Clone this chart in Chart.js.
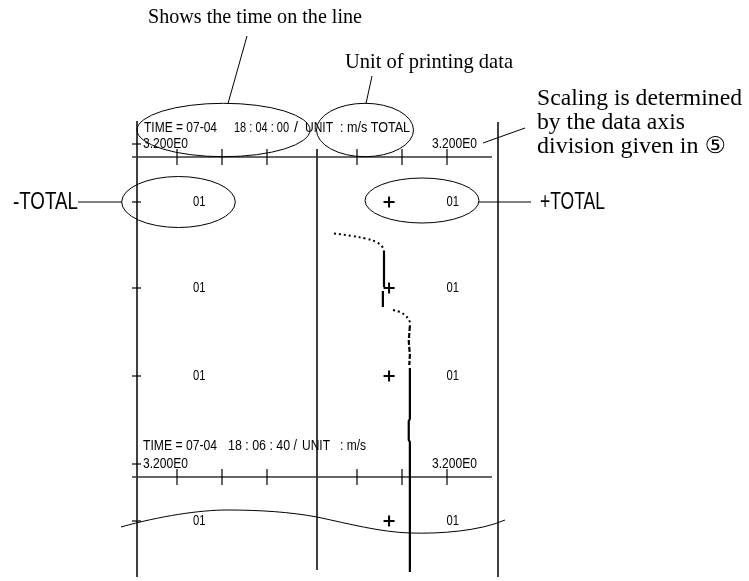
<!DOCTYPE html>
<html>
<head>
<meta charset="utf-8">
<script src="https://cdn.jsdelivr.net/npm/chart.js@4"></script>
<style>
  html, body { margin: 0; padding: 0; background: #fff; }
  canvas { display: block; }
</style>
</head>
<body>
<canvas id="chart" width="749" height="581"></canvas>
<script>
// printed wind speed record: x = speed (m/s), y = seconds after 18:04:00
const axisTicks = [-2.4, -1.6, -0.8, 0.8, 1.6, 2.4];
const axisTimes = [0, 160];              // printed axes at 18:04:00 and 18:06:40
const rowTimes = [22.5, 65.5, 109.5, 182];
const rowLabels = ["01", "01", "01", "01"];
const plusSpeed = 1.37;

// trace pieces, as they were printed
const dotTimes1 = [38.2, 39.5, 40.8, 42.5, 44.5, 47];
const dotSpeeds1 = [0.39, 0.71, 0.96, 1.14, 1.24, 1.28];
const solidTimes1 = [47, 65];
const solidSpeeds1 = [1.28, 1.28];
const solidTimes2 = [67, 75];
const solidSpeeds2 = [1.26, 1.26];
const dotTimes2 = [76.5, 77.5, 79.5, 82.5, 84.5];
const dotSpeeds2 = [1.44, 1.56, 1.67, 1.74, 1.74];
const dashTimes = [84.5, 92, 99, 104];
const dashSpeeds = [1.74, 1.72, 1.74, 1.73];
const solidTimes3 = [105.5, 131, 132, 141.5, 142.5, 207.5];
const solidSpeeds3 = [1.74, 1.74, 1.72, 1.72, 1.74, 1.74];

const narrow = '"Liberation Sans Narrow", "Liberation Sans", Arial, sans-serif';
const serif = '"Liberation Serif", "Times New Roman", "DejaVu Sans", serif';

function pts(speeds, times) {
    return speeds.map((s, i) => ({ x: s, y: times[i] }));
}

// draw text squeezed / stretched to a given width
function fitText(ctx, str, x, y, w, size, family) {
    ctx.font = size + "px " + family;
    const m = ctx.measureText(str).width;
    ctx.save();
    ctx.translate(x, y);
    ctx.scale(w / m, 1);
    ctx.textAlign = "left";
    ctx.textBaseline = "middle";
    ctx.fillText(str, 0, 0);
    ctx.restore();
}

function line(ctx, x1, y1, x2, y2) {
    ctx.beginPath();
    ctx.moveTo(x1, y1);
    ctx.lineTo(x2, y2);
    ctx.stroke();
}

function ellipse(ctx, cx, cy, rx, ry) {
    ctx.beginPath();
    ctx.ellipse(cx, cy, rx, ry, 0, 0, Math.PI * 2);
    ctx.stroke();
}

const paperPlugin = {
    id: "paper",
    beforeDatasetsDraw(chart) {
        const ctx = chart.ctx;
        const xs = chart.scales.x, ys = chart.scales.y;
        ctx.save();
        ctx.strokeStyle = "#000";
        ctx.fillStyle = "#000";

        // frame lines
        ctx.lineWidth = 1.5;
        line(ctx, 137, 121, 137, 577);
        line(ctx, 317, 149, 317, 570);
        line(ctx, 498, 122, 498, 577);

        // data axes
        axisTimes.forEach(t => {
            const y = ys.getPixelForValue(t);
            ctx.strokeStyle = "#333";
            ctx.lineWidth = 1.5;
            line(ctx, xs.getPixelForValue(-3.2), y, xs.getPixelForValue(3.2), y);
            ctx.strokeStyle = "#000";
            ctx.lineWidth = 1.2;
            axisTicks.forEach(v => {
                const x = xs.getPixelForValue(v);
                line(ctx, x, y - 8, x, y + 8);
            });
            line(ctx, 132, y - 13, 141, y - 13);
            fitText(ctx, "3.200E0", 143, y - 13, 45, 14, narrow);
            fitText(ctx, "3.200E0", 432, y - 13, 45, 14, narrow);
        });

        // row marks and labels
        ctx.lineWidth = 1.2;
        rowTimes.forEach((t, i) => {
            const y = ys.getPixelForValue(t);
            line(ctx, 132, y, 141, y);
            fitText(ctx, rowLabels[i], 193, y, 12.5, 15, narrow);
            fitText(ctx, rowLabels[i], 446.5, y, 12.5, 15, narrow);
        });

        // headers
        const h1 = ys.getPixelForValue(axisTimes[0]) - 29;
        fitText(ctx, "TIME = 07-04", 144, h1, 73, 14, narrow);
        fitText(ctx, "18 : 04 : 00", 234, h1, 55, 14, narrow);
        fitText(ctx, "/", 294, h1, 4, 14, narrow);
        fitText(ctx, "UNIT", 305, h1, 28, 14, narrow);
        fitText(ctx, ": m/s TOTAL", 340, h1, 70, 14, narrow);
        const h2 = ys.getPixelForValue(axisTimes[1]) - 31;
        fitText(ctx, "TIME = 07-04", 143, h2, 74, 14, narrow);
        fitText(ctx, "18 : 06 : 40 /", 228, h2, 69, 14, narrow);
        fitText(ctx, "UNIT", 302, h2, 28, 14, narrow);
        fitText(ctx, ": m/s", 340, h2, 26, 14, narrow);
        ctx.restore();
    },
    afterDatasetsDraw(chart) {
        const ctx = chart.ctx;
        ctx.save();
        ctx.strokeStyle = "#000";
        ctx.fillStyle = "#000";
        ctx.lineWidth = 1;

        // callout ellipses
        ellipse(ctx, 223.5, 130, 86.5, 26.7);
        ellipse(ctx, 365, 130, 48.5, 26.7);
        ellipse(ctx, 178.5, 202, 56.8, 25.5);
        ellipse(ctx, 422, 200.5, 57, 22.5);

        // leader lines
        line(ctx, 247, 36, 228, 103.5);
        line(ctx, 372, 76, 366, 103.5);
        line(ctx, 483, 143, 525, 128);
        line(ctx, 78, 202, 122, 202);
        line(ctx, 479, 202, 531, 202);

        // break line
        ctx.beginPath();
        ctx.moveTo(121, 527);
        ctx.bezierCurveTo(160, 516, 200, 510, 227, 510);
        ctx.bezierCurveTo(260, 510, 290, 512, 317, 517);
        ctx.bezierCurveTo(350, 524, 380, 532, 410, 533);
        ctx.bezierCurveTo(440, 534, 480, 531, 505, 520);
        ctx.stroke();

        // explanations
        fitText(ctx, "Shows the time on the line", 148, 17, 214, 21, serif);
        fitText(ctx, "Unit of printing data", 345, 62, 168, 21, serif);
        fitText(ctx, "Scaling is determined", 537, 99, 205, 23, serif);
        fitText(ctx, "by the data axis", 537, 123, 148, 23, serif);
        fitText(ctx, "division given in \u2464", 537, 147, 189, 23, serif);
        fitText(ctx, "-TOTAL", 13, 202, 65, 24, narrow);
        fitText(ctx, "+TOTAL", 540, 202, 65, 24, narrow);
        ctx.restore();
    }
};

const traceStyle = { borderColor: "#000", pointRadius: 0, showLine: true, fill: false, borderCapStyle: "butt" };

new Chart(document.getElementById("chart"), {
    type: "scatter",
    data: {
        datasets: [
            Object.assign({ data: pts(dotSpeeds1, dotTimes1), borderWidth: 2, borderDash: [2, 3], tension: 0.4 }, traceStyle),
            Object.assign({ data: pts(solidSpeeds1, solidTimes1), borderWidth: 2.2 }, traceStyle),
            Object.assign({ data: pts(solidSpeeds2, solidTimes2), borderWidth: 2.2 }, traceStyle),
            Object.assign({ data: pts(dotSpeeds2, dotTimes2), borderWidth: 2, borderDash: [2, 3], tension: 0.4 }, traceStyle),
            Object.assign({ data: pts(dashSpeeds, dashTimes), borderWidth: 2.2, borderDash: [5, 2] }, traceStyle),
            Object.assign({ data: pts(solidSpeeds3, solidTimes3), borderWidth: 2.2 }, traceStyle),
            {
                data: rowTimes.map(t => ({ x: plusSpeed, y: t })),
                pointStyle: "cross",
                pointRadius: 5.5,
                borderWidth: 2,
                borderColor: "#000",
                showLine: false
            }
        ]
    },
    options: {
        responsive: false,
        animation: false,
        layout: { padding: 0, autoPadding: false },
        plugins: { legend: { display: false }, tooltip: { enabled: false } },
        scales: {
            x: { type: "linear", display: false, min: -312 / 56.25, max: 437 / 56.25 },
            y: { type: "linear", display: false, reverse: true, min: -78.5, max: 212 }
        }
    },
    plugins: [paperPlugin]
});
</script>
</body>
</html>
